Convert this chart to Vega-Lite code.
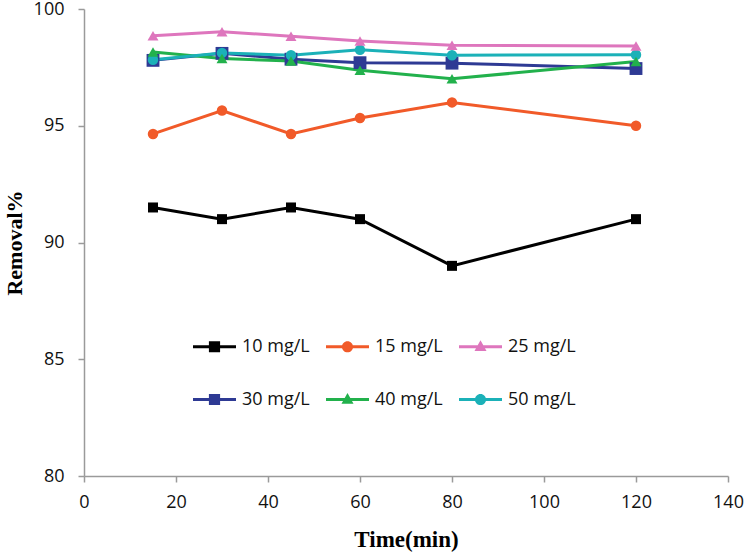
{
  "$schema": "https://vega.github.io/schema/vega-lite/v6.json",
  "width": 644,
  "height": 467,
  "autosize": {"type": "none"},
  "padding": {"left": 84, "top": 9, "right": 17, "bottom": 78},
  "background": "white",
  "config": {"view": {"stroke": null}},
  "data": {"values": [
    {"series": "10 mg/L", "time": 15, "removal": 91.5},
    {"series": "10 mg/L", "time": 30, "removal": 91.0},
    {"series": "10 mg/L", "time": 45, "removal": 91.5},
    {"series": "10 mg/L", "time": 60, "removal": 91.0},
    {"series": "10 mg/L", "time": 80, "removal": 89.0},
    {"series": "10 mg/L", "time": 120, "removal": 91.0},
    {"series": "15 mg/L", "time": 15, "removal": 94.65},
    {"series": "15 mg/L", "time": 30, "removal": 95.65},
    {"series": "15 mg/L", "time": 45, "removal": 94.65},
    {"series": "15 mg/L", "time": 60, "removal": 95.33},
    {"series": "15 mg/L", "time": 80, "removal": 96.0},
    {"series": "15 mg/L", "time": 120, "removal": 95.0},
    {"series": "25 mg/L", "time": 15, "removal": 98.85},
    {"series": "25 mg/L", "time": 30, "removal": 99.03},
    {"series": "25 mg/L", "time": 45, "removal": 98.83},
    {"series": "25 mg/L", "time": 60, "removal": 98.63},
    {"series": "25 mg/L", "time": 80, "removal": 98.45},
    {"series": "25 mg/L", "time": 120, "removal": 98.42},
    {"series": "30 mg/L", "time": 15, "removal": 97.8},
    {"series": "30 mg/L", "time": 30, "removal": 98.1},
    {"series": "30 mg/L", "time": 45, "removal": 97.85},
    {"series": "30 mg/L", "time": 60, "removal": 97.7},
    {"series": "30 mg/L", "time": 80, "removal": 97.68},
    {"series": "30 mg/L", "time": 120, "removal": 97.45},
    {"series": "40 mg/L", "time": 15, "removal": 98.16},
    {"series": "40 mg/L", "time": 30, "removal": 97.88},
    {"series": "40 mg/L", "time": 45, "removal": 97.77},
    {"series": "40 mg/L", "time": 60, "removal": 97.38},
    {"series": "40 mg/L", "time": 80, "removal": 97.01},
    {"series": "40 mg/L", "time": 120, "removal": 97.75},
    {"series": "50 mg/L", "time": 15, "removal": 97.83},
    {"series": "50 mg/L", "time": 30, "removal": 98.12},
    {"series": "50 mg/L", "time": 45, "removal": 98.02},
    {"series": "50 mg/L", "time": 60, "removal": 98.25},
    {"series": "50 mg/L", "time": 80, "removal": 98.02},
    {"series": "50 mg/L", "time": 120, "removal": 98.04}
  ]},
  "encoding": {
    "x": {
      "field": "time", "type": "quantitative",
      "scale": {"domain": [0, 140], "nice": false, "zero": false},
      "axis": {
        "values": [0, 20, 40, 60, 80, 100, 120, 140],
        "title": "Time(min)",
        "grid": false,
        "domainColor": "#9a9a9a", "domainWidth": 1.5,
        "tickColor": "#9a9a9a", "tickSize": 6, "tickWidth": 1.5,
        "labelFont": "Open Sans", "labelFontSize": 18, "labelColor": "#111111",
        "labelPadding": 11, "labelFlush": false,
        "titleFont": "Liberation Serif", "titleFontWeight": "bold", "titleFontSize": 23, "titleColor": "#000000",
        "titleY": 63, "titleBaseline": "middle"
      }
    },
    "y": {
      "field": "removal", "type": "quantitative",
      "scale": {"domain": [80, 100], "nice": false, "zero": false},
      "axis": {
        "values": [80, 85, 90, 95, 100],
        "title": "Removal%",
        "grid": false,
        "domainColor": "#9a9a9a", "domainWidth": 1.5,
        "tickColor": "#9a9a9a", "tickSize": 6, "tickWidth": 1.5,
        "labelFont": "Open Sans", "labelFontSize": 18, "labelColor": "#111111",
        "labelPadding": 14, "labelFlush": false,
        "titleFont": "Liberation Serif", "titleFontWeight": "bold", "titleFontSize": 22, "titleColor": "#000000",
        "titleX": -70, "titleBaseline": "middle"
      }
    },
    "color": {
      "field": "series", "type": "nominal",
      "scale": {
        "domain": ["10 mg/L", "15 mg/L", "25 mg/L", "30 mg/L", "40 mg/L", "50 mg/L"],
        "range": ["#000000", "#F15A29", "#DE76BD", "#2E3A94", "#22B14C", "#1BB1B8"]
      },
      "legend": {
        "title": null,
        "orient": "none",
        "direction": "horizontal",
        "legendX": 109,
        "legendY": 316,
        "columns": 3,
        "padding": 0,
        "symbolSize": 1849,
        "symbolStrokeWidth": 0,
        "labelOffset": 6,
        "columnPadding": 16,
        "rowPadding": 22,
        "labelFont": "Open Sans",
        "labelFontSize": 18,
        "labelColor": "#111111",
        "labelLimit": 200,
        "encode": {
          "symbols": {
            "update": {
              "shape": {"signal": "(datum.value === '10 mg/L' || datum.value === '30 mg/L') ? 'M-1,-0.07H1V0.07H-1Z M-0.26,-0.26H0.26V0.26H-0.26Z' : (datum.value === '15 mg/L' || datum.value === '50 mg/L') ? 'M-1,-0.07H1V0.07H-1Z M-0.26,0A0.26,0.26 0 1,1 0.26,0A0.26,0.26 0 1,1 -0.26,0Z' : 'M-1,-0.07H1V0.07H-1Z M0,-0.3L0.28,0.2H-0.28Z'"},
              "size": {"value": 1849},
              "fill": {"scale": "color", "field": "value"},
              "stroke": {"value": "transparent"},
              "strokeWidth": {"value": 0},
              "opacity": {"value": 1}
            }
          }
        }
      }
    }
  },
  "layer": [
    {
      "mark": {"type": "line", "strokeWidth": 3}
    },
    {
      "transform": [{"filter": "datum.series === '10 mg/L'"}],
      "mark": {"type": "point", "shape": "square", "filled": true, "opacity": 1, "size": 100}
    },
    {
      "transform": [{"filter": "datum.series === '30 mg/L'"}],
      "mark": {"type": "point", "shape": "square", "filled": true, "opacity": 1, "size": 165}
    },
    {
      "transform": [{"filter": "datum.series === '15 mg/L' || datum.series === '50 mg/L'"}],
      "mark": {"type": "point", "shape": "circle", "filled": true, "opacity": 1, "size": 110}
    },
    {
      "transform": [{"filter": "datum.series === '25 mg/L' || datum.series === '40 mg/L'"}],
      "mark": {"type": "point", "shape": "triangle-up", "filled": true, "opacity": 1, "size": 120}
    }
  ]
}
